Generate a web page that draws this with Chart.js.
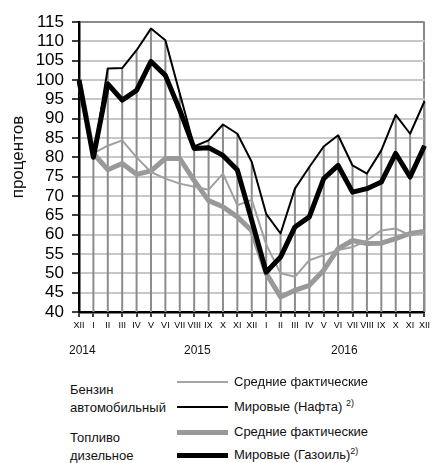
<!DOCTYPE html>
<html>
<head>
<meta charset="utf-8">
<script src="https://cdn.jsdelivr.net/npm/chart.js@4"></script>
<style>
  body { margin: 0; background: #fff; font-family: 'Liberation Sans', Arial, sans-serif; color: #111; }
  #wrap { position: relative; width: 433px; height: 463px; overflow: hidden; }
  #chart { position: absolute; left: 0; top: 0; }
  #ytitle { position: absolute; left: -42px; top: 146px; width: 120px; height: 22px; line-height: 22px;
            text-align: center; font-size: 17px; transform: rotate(-90deg); }
  .t { position: absolute; font-size: 13px; line-height: 15px; white-space: nowrap; }
  .y { font-size: 12px; }
  .t sup { font-size: 9px; vertical-align: 5px; line-height: 0; }
  .ln { position: absolute; left: 177px; width: 51px; }
</style>
</head>
<body>
<div id="wrap">
  <canvas id="chart" width="433" height="345" style="width:433px;height:345px"></canvas>
  <div id="ytitle">процентов</div>

  <div class="t y" style="left:69px;top:343px">2014</div>
  <div class="t y" style="left:184px;top:343px">2015</div>
  <div class="t y" style="left:331px;top:343px">2016</div>

  <div class="t" style="left:70px;top:382px">Бензин</div>
  <div class="t" style="left:70px;top:400px">автомобильный</div>
  <div class="t" style="left:70px;top:430px">Топливо</div>
  <div class="t" style="left:70px;top:448px">дизельное</div>

  <div class="ln" style="top:381px;height:2px;background:#a6a6a6"></div>
  <div class="ln" style="top:406px;height:2px;background:#000"></div>
  <div class="ln" style="top:430px;height:5px;background:#999"></div>
  <div class="ln" style="top:453px;height:5px;background:#000"></div>

  <div class="t" style="left:234px;top:374px">Средние фактические</div>
  <div class="t" style="left:234px;top:399px">Мировые (Нафта) <sup>2)</sup></div>
  <div class="t" style="left:234px;top:424px">Средние фактические</div>
  <div class="t" style="left:234px;top:447px">Мировые (Газоиль)<sup>2)</sup></div>
</div>

<script>
const months = ['XII', 'I', 'II', 'III', 'IV', 'V', 'VI', 'VII', 'VIII', 'IX', 'X', 'XI',
                'XII', 'I', 'II', 'III', 'IV', 'V', 'VI', 'VII', 'VIII', 'IX', 'X', 'XI', 'XII'];

// бензин: средние фактические / мировые (нафта)
const petrolAvg = [100, 81, 83, 84.4, 80, 76.2, 74.5, 73.2, 72.4, 71.6, 75.8, 67.6, 69,
                   57.5, 50, 49.1, 53.4, 54.7, 56, 56.8, 58.5, 61.1, 61.6, 59.8, 60.8];
const petrolWorld = [100, 80, 103, 103.1, 107.7, 113.3, 110.3, 96.5, 82.8, 84.4, 88.5, 86.1, 78.8,
                     65.4, 60.3, 71.9, 77.5, 82.8, 85.7, 77.9, 75.8, 81.8, 91, 86.1, 94.5];

// дизельное топливо: средние фактические / мировые (газойль)
const dieselAvg = [100, 81, 76.8, 78.4, 75.6, 76.5, 79.7, 79.7, 74, 68.8, 67.2, 64.6, 61,
                   50, 43.9, 45.6, 46.9, 50.8, 56.4, 58.5, 57.7, 57.8, 59, 60.3, 60.8];
const dieselWorld = [100, 80, 99, 94.8, 97.3, 104.8, 101.2, 92.2, 82.3, 82.5, 80.5, 76.7, 63.7,
                     50.3, 54.2, 62, 64.6, 74.5, 77.9, 71, 71.9, 73.6, 81, 74.9, 83];

const yMin = 40, yMax = 115, yStep = 5;

Chart.defaults.font.family = "'Liberation Sans', Arial, sans-serif";
Chart.defaults.color = '#000';

// вертикальные линии от верхней серии до оси
const dropLines = {
  id: 'dropLines',
  beforeDatasetsDraw(chart) {
    const { ctx, chartArea, scales: { x, y } } = chart;
    ctx.save();
    ctx.strokeStyle = '#8c8c8c';
    ctx.lineWidth = 2;
    months.forEach((m, i) => {
      if (i === 0) return;
      const top = Math.max(...chart.data.datasets.map(d => d.data[i]));
      const px = x.getPixelForValue(i);
      ctx.beginPath();
      ctx.moveTo(px, y.getPixelForValue(top));
      ctx.lineTo(px, chartArea.bottom);
      ctx.stroke();
    });
    ctx.restore();
  }
};

const line = (data, color, width, order) => ({
  data, borderColor: color, borderWidth: width, pointRadius: 0,
  tension: 0, borderJoinStyle: 'round', fill: false, order
});

new Chart(document.getElementById('chart'), {
  type: 'line',
  data: {
    labels: months,
    datasets: [
      line(petrolWorld, '#000', 2, 1),
      line(dieselWorld, '#000', 5, 2),
      line(petrolAvg, '#a0a0a0', 2, 3),
      line(dieselAvg, '#999', 5, 4)
    ]
  },
  options: {
    responsive: false,
    animation: false,
    layout: { padding: { top: 22, right: 6, left: 0, bottom: 0 } },
    plugins: { legend: { display: false }, tooltip: { enabled: false } },
    scales: {
      x: {
        offset: false,
        afterFit: s => { s.height = 33; },
        border: { color: '#000', width: 2.5 },
        grid: {
          color: c => c.index === months.length - 1 ? '#8a8a8a' : 'rgba(0,0,0,0)',
          lineWidth: 2,
          tickColor: '#000',
          tickLength: 5,
          tickWidth: 1.5
        },
        ticks: { autoSkip: false, maxRotation: 0, padding: 3, font: { size: 9 } }
      },
      y: {
        min: yMin,
        max: yMax,
        afterFit: s => { s.width = 79; },
        border: { color: '#000', width: 2.5 },
        grid: {
          color: c => c.tick.value === yMax ? '#8a8a8a' : '#c8c8c8',
          lineWidth: 2,
          tickColor: '#000',
          tickLength: 7,
          tickWidth: 1.5
        },
        ticks: { stepSize: yStep, autoSkip: false, padding: 8, font: { size: 17 } }
      }
    }
  },
  plugins: [dropLines]
});
</script>
</body>
</html>
